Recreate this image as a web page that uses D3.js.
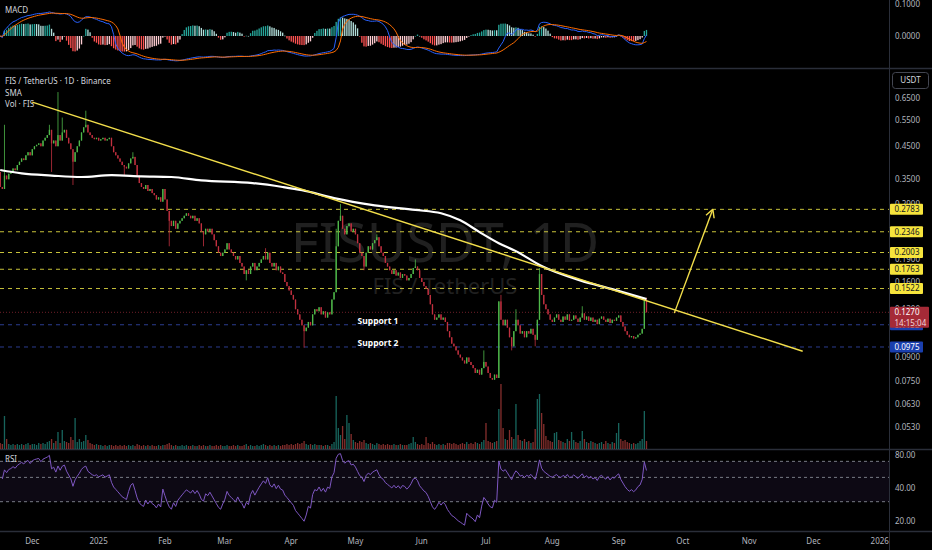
<!DOCTYPE html>
<html>
<head>
<meta charset="utf-8">
<script src="https://cdn.jsdelivr.net/npm/d3@7"></script>
<style>
  body { margin: 0; background: #000; }
  svg { display: block; font-family: "Noto Sans", sans-serif; }
</style>
</head>
<body>
<script>
// daily candles FIS/USDT, first candle 2024-11-16
var startDate = "2024-11-16";
var firstOpen = 0.37;
var closes = [
  0.33, 0.325, 0.36, 0.35, 0.365, 0.37, 0.38, 0.375, 0.39, 0.40,
  0.41, 0.405, 0.42, 0.43, 0.42, 0.44, 0.45, 0.455, 0.46, 0.45,
  0.47, 0.48, 0.49, 0.51, 0.46, 0.47, 0.45, 0.49, 0.47, 0.50,
  0.51, 0.48, 0.46, 0.44, 0.40, 0.43, 0.45, 0.47, 0.50, 0.52,
  0.53, 0.50, 0.49, 0.48, 0.475, 0.48, 0.47, 0.475, 0.48, 0.47,
  0.475, 0.48, 0.45, 0.43, 0.42, 0.41, 0.40, 0.39, 0.385, 0.38,
  0.395, 0.41, 0.415, 0.39, 0.36, 0.34, 0.33, 0.325, 0.335, 0.32,
  0.325, 0.315, 0.31, 0.30, 0.305, 0.295, 0.325, 0.30, 0.275, 0.255,
  0.245, 0.255, 0.24, 0.25, 0.255, 0.26, 0.265, 0.27, 0.265, 0.26,
  0.265, 0.255, 0.26, 0.25, 0.235, 0.23, 0.24, 0.235, 0.24, 0.23,
  0.22, 0.21, 0.20, 0.195, 0.20, 0.205, 0.215, 0.205, 0.20, 0.195,
  0.19, 0.195, 0.185, 0.18, 0.17, 0.175, 0.17, 0.18, 0.185, 0.175,
  0.18, 0.185, 0.19, 0.195, 0.19, 0.20, 0.185, 0.18, 0.185, 0.175,
  0.18, 0.172, 0.17, 0.16, 0.155, 0.15, 0.145, 0.14, 0.13, 0.125,
  0.12, 0.115, 0.11, 0.113, 0.118, 0.115, 0.125, 0.13, 0.128, 0.132,
  0.125, 0.128, 0.122, 0.127, 0.125, 0.14, 0.148, 0.21, 0.255, 0.265,
  0.24, 0.23, 0.245, 0.25, 0.235, 0.24, 0.23, 0.215, 0.20, 0.195,
  0.18, 0.20, 0.21, 0.205, 0.215, 0.22, 0.225, 0.21, 0.20, 0.195,
  0.185, 0.18, 0.175, 0.17, 0.175, 0.168, 0.172, 0.165, 0.17, 0.168,
  0.162, 0.165, 0.17, 0.178, 0.18, 0.175, 0.165, 0.16, 0.155, 0.152,
  0.145, 0.135, 0.125, 0.12, 0.122, 0.125, 0.12, 0.122, 0.118, 0.11,
  0.105, 0.10, 0.098, 0.095, 0.092, 0.09, 0.088, 0.086, 0.09, 0.087,
  0.085, 0.083, 0.08, 0.082, 0.079, 0.083, 0.087, 0.084, 0.08, 0.077,
  0.076, 0.079, 0.077, 0.138, 0.12, 0.115, 0.12, 0.113, 0.105, 0.098,
  0.11, 0.12, 0.115, 0.108, 0.11, 0.105, 0.11, 0.108, 0.112, 0.107,
  0.103, 0.12, 0.17, 0.145, 0.135, 0.13, 0.125, 0.12, 0.118, 0.122,
  0.125, 0.12, 0.118, 0.123, 0.12, 0.125, 0.119, 0.12, 0.124, 0.121,
  0.118, 0.122, 0.126, 0.12, 0.123, 0.119, 0.122, 0.118, 0.12, 0.116,
  0.121, 0.123, 0.12, 0.118, 0.121, 0.117, 0.12, 0.119, 0.122, 0.124,
  0.118, 0.114, 0.11, 0.107, 0.105, 0.106, 0.104, 0.105, 0.107, 0.108,
  0.112, 0.139, 0.127
];
// notable wicks: [day index, price]
var highWicks = [[2, 0.53], [23, 0.53], [27, 0.68], [29, 0.56], [40, 0.59], [62, 0.43],
  [124, 0.207], [157, 0.24], [159, 0.29], [176, 0.23], [194, 0.19], [226, 0.095],
  [234, 0.145], [241, 0.13], [252, 0.178], [272, 0.133], [301, 0.142], [302, 0.142]];
var lowWicks = [[24, 0.37], [34, 0.335], [58, 0.36], [79, 0.21], [95, 0.21], [115, 0.162],
  [142, 0.097], [170, 0.175], [239, 0.095], [250, 0.098]];
var volumes = [
  6, 5, 33, 10, 5, 4, 5, 4, 5, 4,
  5, 4, 5, 6, 4, 5, 5, 4, 6, 5,
  6, 5, 7, 8, 10, 6, 8, 17, 6, 19,
  8, 7, 6, 12, 9, 31, 7, 10, 7, 8,
  14, 9, 6, 5, 4, 5, 4, 4, 3, 4,
  3, 4, 4, 3, 4, 3, 4, 3, 4, 3,
  4, 3, 4, 3, 5, 4, 3, 4, 3, 4,
  3, 4, 3, 3, 4, 3, 4, 4, 5, 6,
  4, 3, 4, 3, 3, 4, 3, 4, 3, 3,
  4, 3, 3, 4, 3, 4, 3, 3, 4, 3,
  3, 4, 3, 4, 3, 3, 4, 3, 3, 4,
  3, 4, 3, 3, 4, 5, 3, 4, 3, 3,
  4, 3, 4, 5, 4, 3, 4, 3, 4, 3,
  4, 3, 4, 4, 5, 4, 5, 4, 5, 6,
  5, 6, 8, 5, 4, 5, 4, 5, 4, 4,
  4, 3, 4, 4, 3, 5, 7, 53, 21, 14,
  23, 10, 34, 26, 15, 9, 7, 6, 8, 7,
  9, 6, 5, 6, 5, 4, 6, 5, 4, 5,
  4, 5, 4, 4, 5, 4, 4, 5, 4, 4,
  4, 5, 6, 12, 7, 5, 4, 5, 4, 12,
  6, 5, 7, 5, 4, 5, 4, 5, 4, 6,
  6, 5, 6, 5, 4, 5, 6, 5, 7, 5,
  6, 5, 7, 6, 5, 7, 9, 26, 8, 7,
  6, 7, 8, 40, 65, 21, 10, 9, 19, 12,
  10, 45, 14, 9, 8, 10, 7, 8, 6, 7,
  20, 50, 55, 36, 25, 13, 9, 8, 7, 16,
  17, 9, 8, 7, 6, 10, 8, 17, 9, 7,
  6, 8, 18, 10, 7, 6, 8, 7, 6, 5,
  6, 7, 5, 8, 6, 5, 7, 6, 16, 26,
  10, 8, 9, 7, 6, 5, 6, 5, 6, 8,
  10, 38, 8
];
// 200-day SMA
var smaPoints = [
  ["2024-11-16", 0.3755], ["2024-11-26", 0.366], ["2024-12-10", 0.360], ["2024-12-24", 0.356],
  ["2025-01-07", 0.361], ["2025-01-21", 0.358], ["2025-02-04", 0.356], ["2025-02-18", 0.347],
  ["2025-03-14", 0.340], ["2025-03-28", 0.330], ["2025-04-06", 0.322], ["2025-04-21", 0.303],
  ["2025-05-10", 0.287], ["2025-05-29", 0.277], ["2025-06-10", 0.270], ["2025-06-19", 0.256],
  ["2025-06-28", 0.234], ["2025-07-07", 0.215], ["2025-07-15", 0.2024], ["2025-07-27", 0.1806],
  ["2025-08-14", 0.162], ["2025-08-29", 0.1515], ["2025-09-14", 0.1404]
];
var resistLevels = [0.2783, 0.2346, 0.2003, 0.1763, 0.1522];
var supportLevels = [0.1155, 0.0975];
var supportNames = ["Support 1", "Support 2"];
var supportLabelDate = "2025-05-02";
var lastPrice = 0.1270;
var countdown = "14:15:04";
var priceTicks = [0.65, 0.55, 0.45, 0.35, 0.29, 0.19, 0.16, 0.13, 0.09, 0.075, 0.063, 0.053];
var macdTicks = [0.1, 0];
var rsiTicks = [80, 40, 20];
var rsiLevels = [70, 50, 30];
var trendPts = [["2024-12-01", 0.6302], ["2025-11-26", 0.0944]];
var arrowPts = [["2025-09-27", 0.1262], ["2025-10-15", 0.2783]];
var monthStart = "2024-12-01", monthEnd = "2026-01-02";

var W = 932, H = 550, axisX = 889;
var green = "#4fb84a", red = "#c0303f";
var parse = d3.utcParse("%Y-%m-%d");
var day0 = parse(startDate);

var candles = closes.map(function(c, i) {
  var o = i === 0 ? firstOpen : closes[i - 1];
  return { date: d3.utcDay.offset(day0, i), open: o, close: c,
           high: Math.max(o, c), low: Math.min(o, c), vol: volumes[i] };
});
highWicks.forEach(function(w) { candles[w[0]].high = w[1]; });
lowWicks.forEach(function(w) { candles[w[0]].low = w[1]; });

// indicators
function ema(vals, n) {
  var k = 2 / (n + 1), out = [vals[0]];
  for (var i = 1; i < vals.length; i++) out.push(vals[i] * k + out[i - 1] * (1 - k));
  return out;
}
var e12 = ema(closes, 12), e26 = ema(closes, 26);
var macd = closes.map(function(c, i) { return e12[i] - e26[i]; });
var signal = ema(macd, 9);
var hist = macd.map(function(m, i) { return m - signal[i]; });

var rsi = [null];
var seed = d3.mean(d3.range(1, 15), function(i) { return Math.abs(closes[i] - closes[i - 1]); }) / 2;
var ag = seed, al = seed;
for (var i = 1; i < closes.length; i++) {
  var ch = closes[i] - closes[i - 1];
  ag = (ag * 13 + Math.max(ch, 0)) / 14;
  al = (al * 13 + Math.max(-ch, 0)) / 14;
  rsi.push(100 - 100 / (1 + ag / al));
}

// scales (log mode; MACD pane as signed log)
var x = d3.scaleUtc().domain([day0, parse("2026-01-05")]).range([0.2, 888.3]);
var step = x(d3.utcDay.offset(day0, 1)) - x(day0);
var bw = Math.max(1, step * 0.62);
var y = d3.scaleLog().domain([0.65, 0.053]).range([98, 427]);
var yVol = d3.scaleLinear().domain([0, 70]).range([449, 379]);
var yMacd = d3.scaleSymlog().constant(0.002).domain([0, 0.1]).range([36, 4]);
var yRsi = d3.scaleLog().domain([80, 20]).range([455, 521]);

var svg = d3.select("body").append("svg").attr("width", W).attr("height", H);
svg.append("rect").attr("width", W).attr("height", H).attr("fill", "#000");

var defs = svg.append("defs");
function clip(id, y0, y1) {
  defs.append("clipPath").attr("id", id).append("rect")
    .attr("x", 0).attr("y", y0).attr("width", axisX).attr("height", y1 - y0);
  return svg.append("g").attr("clip-path", "url(#" + id + ")");
}

// separators
[68.5, 449.5, 531.5].forEach(function(v) {
  svg.append("line").attr("x1", 0).attr("x2", W).attr("y1", v).attr("y2", v)
    .attr("stroke", "#2a2e39").attr("stroke-width", 1.5);
});
svg.append("line").attr("x1", axisX + 0.5).attr("x2", axisX + 0.5).attr("y1", 0).attr("y2", H)
  .attr("stroke", "#2a2e39");

// ---------- MACD pane ----------
var gM = clip("cm", 0, 68);
gM.selectAll(".h").data(hist).enter().append("rect")
  .attr("x", function(d, i) { return x(candles[i].date) - bw / 2; })
  .attr("width", bw)
  .attr("y", function(d) { return Math.min(yMacd(d), yMacd(0)); })
  .attr("height", function(d) { return Math.max(0.6, Math.abs(yMacd(d) - yMacd(0))); })
  .attr("fill", function(d, i) {
    var prev = i > 0 ? hist[i - 1] : 0;
    if (d >= 0) return prev < d ? "#26a69a" : "#b2dfdb";
    return prev < d ? "#ffcdd2" : "#ff5252";
  });
var lineM = function(arr) {
  return d3.line().x(function(d, i) { return x(candles[i].date); }).y(function(d) { return yMacd(d); })(arr);
};
gM.append("path").attr("d", lineM(macd)).attr("fill", "none").attr("stroke", "#2962ff").attr("stroke-width", 1);
gM.append("path").attr("d", lineM(signal)).attr("fill", "none").attr("stroke", "#ff6d00").attr("stroke-width", 1);
svg.append("text").attr("x", 5).attr("y", 13).attr("fill", "#d1d4dc").attr("font-size", 8).text("MACD");
svg.selectAll(".mt").data(macdTicks).enter().append("text")
  .attr("x", 895).attr("y", function(d) { return yMacd(d); }).attr("dy", "0.35em")
  .attr("fill", "#b2b5be").attr("font-size", 8).text(function(d) { return d.toFixed(4); });

// ---------- price pane ----------
var gP = clip("cp", 69, 449);
gP.append("text").attr("x", 445).attr("y", 262).attr("text-anchor", "middle")
  .attr("font-size", 54).attr("fill", "#202020").text("FISUSDT, 1D");
gP.append("text").attr("x", 445).attr("y", 294).attr("text-anchor", "middle")
  .attr("font-size", 22).attr("fill", "#202020").text("FIS / TetherUS");

// volume
gP.selectAll(".v").data(candles).enter().append("rect")
  .attr("x", function(d) { return x(d.date) - bw / 2; })
  .attr("width", bw)
  .attr("y", function(d) { return yVol(d.vol); })
  .attr("height", function(d) { return yVol(0) - yVol(d.vol); })
  .attr("fill", function(d) { return d.close >= d.open ? "rgba(38,166,154,0.6)" : "rgba(239,83,80,0.55)"; });

// horizontal levels
gP.selectAll(".rl").data(resistLevels).enter().append("line")
  .attr("x1", 0).attr("x2", axisX).attr("y1", function(d) { return y(d); }).attr("y2", function(d) { return y(d); })
  .attr("stroke", "#c8c23a").attr("stroke-dasharray", "4,4").attr("stroke-width", 1);
gP.selectAll(".sl").data(supportLevels).enter().append("line")
  .attr("x1", 0).attr("x2", axisX).attr("y1", function(d) { return y(d); }).attr("y2", function(d) { return y(d); })
  .attr("stroke", "#2b3c8f").attr("stroke-dasharray", "4,4").attr("stroke-width", 1);
gP.append("line").attr("x1", 0).attr("x2", axisX).attr("y1", y(lastPrice)).attr("y2", y(lastPrice))
  .attr("stroke", "#6e1f28").attr("stroke-dasharray", "1,2").attr("stroke-width", 1);

// candles
var cg = gP.selectAll(".c").data(candles).enter().append("g");
cg.append("line")
  .attr("x1", function(d) { return x(d.date); }).attr("x2", function(d) { return x(d.date); })
  .attr("y1", function(d) { return y(d.high); }).attr("y2", function(d) { return y(d.low); })
  .attr("stroke", function(d) { return d.close >= d.open ? green : red; }).attr("stroke-width", 0.8);
cg.append("rect")
  .attr("x", function(d) { return x(d.date) - bw / 2; }).attr("width", bw)
  .attr("y", function(d) { return y(Math.max(d.open, d.close)); })
  .attr("height", function(d) { return Math.max(0.8, y(Math.min(d.open, d.close)) - y(Math.max(d.open, d.close))); })
  .attr("fill", function(d) { return d.close >= d.open ? green : red; });

// SMA
gP.append("path")
  .attr("d", d3.line().curve(d3.curveMonotoneX)
    .x(function(d) { return x(parse(d[0])); }).y(function(d) { return y(d[1]); })(smaPoints))
  .attr("fill", "none").attr("stroke", "#ffffff").attr("stroke-width", 2.2);

// trendline and arrow
gP.append("line")
  .attr("x1", x(parse(trendPts[0][0]))).attr("y1", y(trendPts[0][1]))
  .attr("x2", x(parse(trendPts[1][0]))).attr("y2", y(trendPts[1][1]))
  .attr("stroke", "#f2de4b").attr("stroke-width", 1.4);
var ax0 = x(parse(arrowPts[0][0])), ay0 = y(arrowPts[0][1]);
var ax1 = x(parse(arrowPts[1][0])), ay1 = y(arrowPts[1][1]);
var ang = Math.atan2(ay1 - ay0, ax1 - ax0);
gP.append("line").attr("x1", ax0).attr("y1", ay0).attr("x2", ax1).attr("y2", ay1)
  .attr("stroke", "#f2de4b").attr("stroke-width", 1.4);
[-0.5, 0.5].forEach(function(a) {
  gP.append("line").attr("x1", ax1).attr("y1", ay1)
    .attr("x2", ax1 - 9 * Math.cos(ang + a)).attr("y2", ay1 - 9 * Math.sin(ang + a))
    .attr("stroke", "#f2de4b").attr("stroke-width", 1.4);
});

// support labels
gP.selectAll(".st").data(supportLevels).enter().append("text")
  .attr("x", x(parse(supportLabelDate))).attr("y", function(d) { return y(d) - 1; })
  .attr("fill", "#ffffff").attr("font-size", 8.5).attr("font-weight", "bold")
  .text(function(d, i) { return supportNames[i]; });

// legend
var legend = ["FIS / TetherUS · 1D · Binance", "SMA", "Vol · FIS"];
svg.selectAll(".lg").data(legend).enter().append("text")
  .attr("x", 5).attr("y", function(d, i) { return 84 + i * 11.5; })
  .attr("fill", "#d1d4dc").attr("font-size", 8).text(function(d) { return d; });

// price axis
svg.selectAll(".pt").data(priceTicks).enter().append("text")
  .attr("x", 895).attr("y", function(d) { return y(d); }).attr("dy", "0.35em")
  .attr("fill", "#b2b5be").attr("font-size", 8).text(function(d) { return d.toFixed(4); });
function tag(v, fill, color) {
  svg.append("rect").attr("x", 890).attr("y", y(v) - 5.5).attr("width", 33).attr("height", 11)
    .attr("rx", 1).attr("fill", fill);
  svg.append("text").attr("x", 894.5).attr("y", y(v)).attr("dy", "0.35em")
    .attr("fill", color).attr("font-size", 8).text(v.toFixed(4));
}
resistLevels.forEach(function(v) { tag(v, "#f6e43c", "#131722"); });
supportLevels.forEach(function(v) { tag(v, "#1a3fae", "#ffffff"); });
svg.append("rect").attr("x", 890).attr("y", y(lastPrice) - 5.5).attr("width", 39).attr("height", 21)
  .attr("rx", 1).attr("fill", "#a52a37");
svg.append("text").attr("x", 894.5).attr("y", y(lastPrice)).attr("dy", "0.35em")
  .attr("fill", "#ffffff").attr("font-size", 8).text(lastPrice.toFixed(4));
svg.append("text").attr("x", 894.5).attr("y", y(lastPrice) + 10.5).attr("dy", "0.35em")
  .attr("fill", "#f0d8da").attr("font-size", 8).text(countdown);
svg.append("rect").attr("x", 892.5).attr("y", 72.5).attr("width", 36).attr("height", 16).attr("rx", 3)
  .attr("fill", "#000").attr("stroke", "#434651");
svg.append("text").attr("x", 910.5).attr("y", 80.5).attr("dy", "0.35em").attr("text-anchor", "middle")
  .attr("fill", "#d1d4dc").attr("font-size", 8).text("USDT");

// ---------- RSI pane ----------
var gR = clip("cr", 450, 531);
gR.append("rect").attr("x", 0).attr("width", axisX)
  .attr("y", yRsi(rsiLevels[0])).attr("height", yRsi(rsiLevels[2]) - yRsi(rsiLevels[0]))
  .attr("fill", "rgba(126,87,194,0.1)");
gR.selectAll(".rl").data(rsiLevels).enter().append("line")
  .attr("x1", 0).attr("x2", axisX).attr("y1", function(d) { return yRsi(d); }).attr("y2", function(d) { return yRsi(d); })
  .attr("stroke", "#787b86").attr("stroke-dasharray", "3,3").attr("stroke-width", 1);
gR.append("path")
  .attr("d", d3.line().defined(function(d) { return d !== null; })
    .x(function(d, i) { return x(candles[i].date); }).y(function(d) { return yRsi(d); })(rsi))
  .attr("fill", "none").attr("stroke", "#7e57c2").attr("stroke-width", 1);
svg.append("text").attr("x", 5).attr("y", 462).attr("fill", "#d1d4dc").attr("font-size", 8).text("RSI");
svg.selectAll(".rt").data(rsiTicks).enter().append("text")
  .attr("x", 895).attr("y", function(d) { return yRsi(d); }).attr("dy", "0.35em")
  .attr("fill", "#b2b5be").attr("font-size", 8).text(function(d) { return d.toFixed(2); });

// ---------- time axis ----------
var months = d3.utcMonth.range(parse(monthStart), parse(monthEnd));
svg.selectAll(".tt").data(months).enter().append("text")
  .attr("x", function(d) { return x(d); }).attr("y", 541).attr("dy", "0.35em").attr("text-anchor", "middle")
  .attr("fill", "#b2b5be").attr("font-size", 8)
  .text(function(d) { return d.getUTCMonth() === 0 ? d3.utcFormat("%Y")(d) : d3.utcFormat("%b")(d); });
</script>
</body>
</html>
